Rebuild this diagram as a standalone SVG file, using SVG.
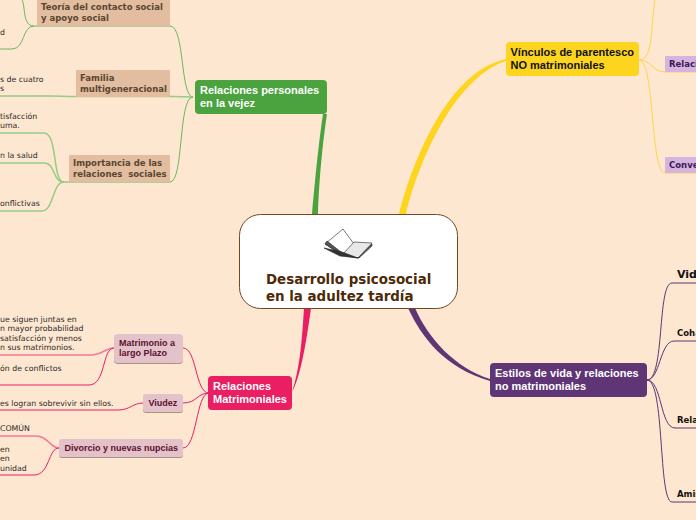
<svg xmlns="http://www.w3.org/2000/svg" width="696" height="520" viewBox="0 0 696 520">
<style>
text{white-space:pre}
.main{font:bold 11px "Liberation Sans",Arial,sans-serif}
.wh{fill:#fff}
.sub{font:bold 8.500px "DejaVu Sans",Verdana,sans-serif}
.br{fill:#5a4630}
.pk{font:bold 9px "Liberation Sans",Arial,sans-serif;fill:#5c1030}
.pu{fill:#3a1a55}
.leaf{font:7.800px "DejaVu Sans",Verdana,sans-serif;fill:#2a2a2a}
.blk{font:bold 8.500px "DejaVu Sans",Verdana,sans-serif;fill:#111}
.g{fill:none;stroke:#69b85f;stroke-width:1}
.gl{fill:none;stroke:#96cc88;stroke-width:1.5}
.r{fill:none;stroke:#e91e63;stroke-width:1}
.rl{fill:none;stroke:#f47a9a;stroke-width:1.5}
.y{fill:none;stroke:#fdd64a;stroke-width:1}
.p{fill:none;stroke:#5f3576;stroke-width:1}
</style>
<defs><filter id="sh" x="-10%" y="-10%" width="120%" height="130%"><feDropShadow dx="0" dy="1" stdDeviation="0.7" flood-color="#8a6a60" flood-opacity=".7"/></filter></defs>
<rect width="696" height="520" fill="#fee7d0"/>
<g id="connectors">
<path d="M312 214C315 180 319 140 323 114H327C323 140 319 180 318 214Z" fill="#4ba33f"/>
<path d="M399 214C410 170 445 72 506 59V61C452 78 416 170 406 214Z" fill="#fdd41e"/>
<path d="M304 308C302 340 300 368 292 392C300 378 306 345 311 308Z" fill="#e91e63"/>
<path d="M408 308C422 338 445 368 490 381V379C455 368 428 338 415 308Z" fill="#5f3576"/>
<path class="g" d="M193 97C180 97 185 26 170 26H34C20 26 28 0 18 -6"/>
<path class="g" d="M34 26C22 26 25 49 12 49H0"/>
<path class="gl" d="M193 97L172 96.500H75C65 96.500 60 96 50 96H0"/>
<path class="g" d="M193 97C178 97 184 182 170 182H64"/>
<path class="gl" d="M64 182C52 182 58 133 44 133H0"/>
<path class="gl" d="M64 182C52 182 56 163 44 163H0"/>
<path class="gl" d="M64 182C52 182 54 211 42 211H0"/>
<path class="r" d="M209 393C195 393 197 348 183 348"/>
<path class="r" d="M209 393C197 393 197 403 183 403"/>
<path class="r" d="M209 393C196 393 197 448 183 448"/>
<path class="rl" d="M114 348C105 348 103 355 90 355H0"/>
<path class="r" d="M114 348C102 348 106 385 89 385H0"/>
<path class="r" d="M143 403C133 403 130 410 118 410H0"/>
<path class="rl" d="M59 448C50 448 48 436 36 436H0"/>
<path class="r" d="M59 448C48 448 50 475 34 475H0"/>
<path class="y" d="M639 60C655 60 650 20 656 -5"/>
<path class="y" d="M639 60C652 60 652 72 665 72H696"/>
<path class="y" d="M639 60C655 60 650 173 665 173H696"/>
<path class="p" d="M647 380C665 380 657 283 672 283H696"/>
<path class="p" d="M647 380C660 380 660 341 674 341H696"/>
<path class="p" d="M647 380C662 380 660 428 675 428H696"/>
<path class="p" d="M647 380C665 380 658 502 672 502H696"/>
</g>
<g id="root">
<rect x="239.500" y="214.500" width="218" height="94" rx="21" fill="#fff" stroke="#6e4a20"/>
<g stroke="#222" stroke-width=".6">
<path d="M325 244L343 229L354 244L342 255Z" fill="#fff"/>
<path d="M342 255L354 242L372 243L358 258Z" fill="#e8e8e8"/>
<path d="M325 244L342 255L341 252L327 241Z" fill="#555"/>
<path d="M324 248L340 256L358 258L342 252Z" fill="#333"/>
<path d="M358 258L372 244L372 246L359 258Z" fill="#666"/>
</g>
<text style="font:bold 13.400px 'DejaVu Sans',Verdana,sans-serif" fill="#4d2a08"><tspan x="266" y="284">Desarrollo psicosocial</tspan><tspan x="266" y="301">en la adultez tardía</tspan></text>
</g>
<g id="n-personales">
<rect x="195" y="80" width="132" height="34" rx="4" fill="#4ba33f"/>
<text class="main wh"><tspan x="200" y="94">Relaciones personales</tspan><tspan x="200" y="107">en la vejez</tspan></text>
</g>
<g id="n-teoria">
<rect x="37" y="-4" width="133" height="30" rx="1" fill="#e2bda0"/>
<text class="sub br"><tspan x="41" y="10">Teoría del contacto social</tspan><tspan x="41" y="21">y apoyo social</tspan></text>
</g>
<g id="n-familia">
<rect x="76" y="70" width="94" height="27" rx="1" fill="#e2bda0"/>
<text class="sub br"><tspan x="80" y="81">Familia</tspan><tspan x="80" y="92">multigeneracional</tspan></text>
</g>
<g id="n-importancia">
<rect x="69" y="155" width="101" height="27" rx="1" fill="#e2bda0"/>
<text class="sub br"><tspan x="73" y="166">Importancia de las</tspan><tspan x="73" y="177">relaciones  sociales</tspan></text>
</g>
<g id="leaves-personales">
<text class="leaf" x="0" y="35">d</text>
<text class="leaf"><tspan x="0" y="82">s de cuatro</tspan><tspan x="0" y="91">s</tspan></text>
<text class="leaf"><tspan x="0" y="119">tisfacción</tspan><tspan x="0" y="128">uma.</tspan></text>
<text class="leaf" x="0" y="158">n la salud</text>
<text class="leaf" x="0" y="206">onflictivas</text>
</g>
<g id="n-matrimoniales">
<rect x="208" y="376" width="84" height="34" rx="4" fill="#e91e63"/>
<text class="main wh"><tspan x="213" y="390">Relaciones</tspan><tspan x="213" y="403">Matrimoniales</tspan></text>
</g>
<g id="n-largo">
<rect x="114" y="334" width="69" height="29" rx="4" fill="#e3c3c9" filter="url(#sh)"/>
<text class="pk"><tspan x="119" y="346">Matrimonio a</tspan><tspan x="119" y="356">largo Plazo</tspan></text>
</g>
<g id="n-viudez">
<rect x="143" y="394" width="40" height="18" rx="3" fill="#e3c3c9" filter="url(#sh)"/>
<text class="pk" x="148.500" y="406">Viudez</text>
</g>
<g id="n-divorcio">
<rect x="59" y="439" width="124" height="18" rx="3" fill="#e3c3c9" filter="url(#sh)"/>
<text class="pk" x="64.500" y="451">Divorcio y nuevas nupcias</text>
</g>
<g id="leaves-matrimoniales">
<text class="leaf"><tspan x="0" y="322">ue siguen juntas en</tspan><tspan x="0" y="331">n mayor probabilidad</tspan><tspan x="0" y="341">satisfacción y menos</tspan><tspan x="0" y="350">n sus matrimonios.</tspan></text>
<text class="leaf" x="0" y="371">ón de conflictos</text>
<text class="leaf" x="0" y="406">es logran sobrevivir sin ellos.</text>
<text class="leaf" x="0" y="431">COMÚN</text>
<text class="leaf"><tspan x="0" y="452">en</tspan><tspan x="0" y="461">en</tspan><tspan x="0" y="471">unidad</tspan></text>
</g>
<g id="n-vinculos">
<rect x="506" y="42" width="133" height="34" rx="4" fill="#fdd41e"/>
<text class="main" fill="#111"><tspan x="510.500" y="56">Vínculos de parentesco</tspan><tspan x="510.500" y="69">NO matrimoniales</tspan></text>
</g>
<g id="n-relaci">
<rect x="665" y="56" width="40" height="16" rx="1" fill="#d7b4e0"/>
<text class="sub pu" x="669" y="67">Relaci</text>
</g>
<g id="n-conve">
<rect x="665" y="157" width="40" height="16" rx="1" fill="#d7b4e0"/>
<text class="sub pu" x="669" y="168">Conve</text>
</g>
<g id="n-estilos">
<rect x="490" y="363" width="157" height="34" rx="4" fill="#5f3576"/>
<text class="main wh"><tspan x="495" y="377">Estilos de vida y relaciones</tspan><tspan x="495" y="390">no matrimoniales</tspan></text>
</g>
<g id="n-vida"><text x="677" y="278" style="font:bold 11px 'DejaVu Sans',Verdana,sans-serif" fill="#111">Vida</text></g>
<g id="n-coha"><text class="blk" x="677" y="336">Coha</text></g>
<g id="n-rela"><text class="blk" x="677" y="423">Rela</text></g>
<g id="n-ami"><text class="blk" x="677" y="497">Amis</text></g>
</svg>
